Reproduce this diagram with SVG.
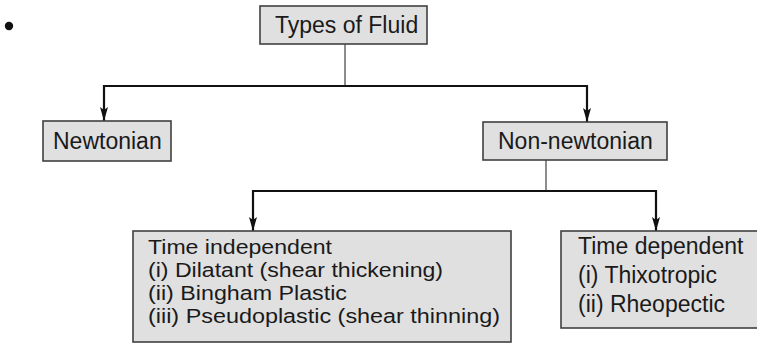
<svg xmlns="http://www.w3.org/2000/svg" width="757" height="344" viewBox="0 0 757 344">
<defs>
<style>
.box{fill:#e0e0e0;stroke:#404040;stroke-width:1.6}
.t{font-family:"Liberation Sans",Arial,sans-serif;font-size:23px;fill:#1a1a1a}
.s{font-size:20px}
.stem{stroke:#404040;stroke-width:1.2;fill:none}
.bus{stroke:#111;stroke-width:2.2;fill:none}
</style>
<marker id="ah" viewBox="0 0 14 10" refX="14" refY="5" markerWidth="14" markerHeight="10" markerUnits="userSpaceOnUse" orient="auto-start-reverse">
<path d="M0,1 L3,5 L0,9 L14,5 Z" fill="#111"/>
</marker>
</defs>
<rect width="757" height="344" fill="#fff"/>
<circle cx="9" cy="26" r="4.2" fill="#111"/>
<g id="connectors">
<line class="stem" x1="345" y1="44" x2="345" y2="86"/>
<path class="bus" d="M104,121 V86 H587 V122" marker-start="url(#ah)" marker-end="url(#ah)"/>
<line class="stem" x1="546" y1="160" x2="546" y2="191"/>
<path class="bus" d="M253,231 V191 H656 V231" marker-start="url(#ah)" marker-end="url(#ah)"/>
</g>
<g id="types">
<rect class="box" x="260" y="6" width="167" height="38"/>
<text class="t" x="275" y="33">Types of Fluid</text>
</g>
<g id="newtonian">
<rect class="box" x="43" y="121" width="128" height="40"/>
<text class="t" x="53" y="149">Newtonian</text>
</g>
<g id="nonnewtonian">
<rect class="box" x="483" y="122" width="184" height="38"/>
<text class="t" x="498" y="149">Non-newtonian</text>
</g>
<g id="timeindependent">
<rect class="box" x="133" y="231" width="378" height="111"/>
<text class="t s" x="148" y="254" textLength="184" lengthAdjust="spacingAndGlyphs">Time independent</text>
<text class="t s" x="148" y="277" textLength="295" lengthAdjust="spacingAndGlyphs">(i) Dilatant (shear thickening)</text>
<text class="t s" x="148" y="300" textLength="199" lengthAdjust="spacingAndGlyphs">(ii) Bingham Plastic</text>
<text class="t s" x="148" y="323" textLength="352" lengthAdjust="spacingAndGlyphs">(iii) Pseudoplastic (shear thinning)</text>
</g>
<g id="timedependent">
<rect class="box" x="561" y="231" width="200" height="97"/>
<text class="t" x="578" y="254">Time dependent</text>
<text class="t" x="578" y="283">(i) Thixotropic</text>
<text class="t" x="578" y="312">(ii) Rheopectic</text>
</g>
</svg>
